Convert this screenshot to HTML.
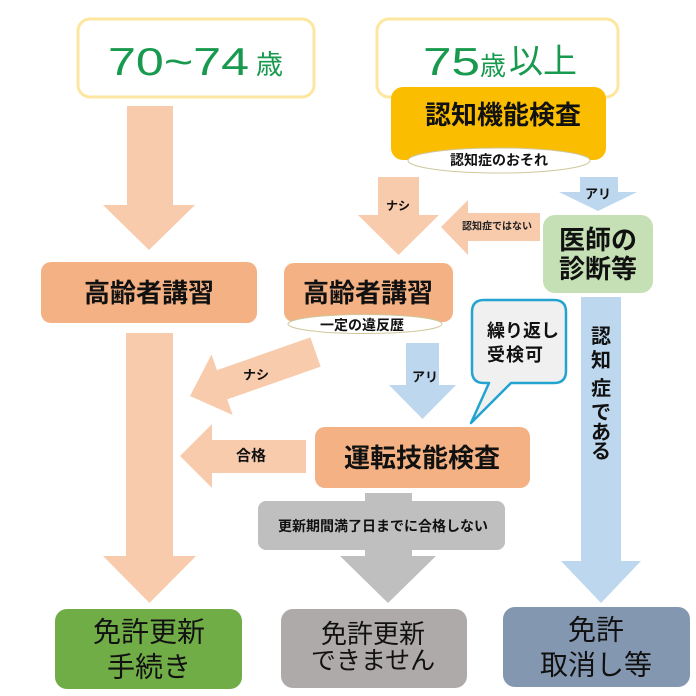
<!DOCTYPE html>
<html><head><meta charset="utf-8">
<style>html,body{margin:0;padding:0;background:#fff;}svg{display:block}</style>
</head><body>
<svg width="696" height="696" viewBox="0 0 696 696" xmlns="http://www.w3.org/2000/svg" font-family="'Liberation Sans','Noto Sans CJK JP',sans-serif">
<rect width="696" height="696" fill="#fff"/>

<!-- top age boxes -->
<rect x="78" y="19" width="236" height="78" rx="12" fill="#fff" stroke="#fde7a0" stroke-width="3"/>
<text x="108" y="75" font-size="39" fill="#17994e" textLength="141" lengthAdjust="spacingAndGlyphs">70~74</text>
<text x="256" y="65" font-size="27" fill="#17994e" dominant-baseline="central">歳</text>

<rect x="377" y="19" width="241" height="78" rx="12" fill="#fff" stroke="#fde7a0" stroke-width="3"/>
<text x="423" y="75" font-size="39" fill="#17994e" textLength="57" lengthAdjust="spacingAndGlyphs">75</text>
<text x="480" y="66" font-size="26" fill="#17994e" dominant-baseline="central">歳</text>
<text x="509" y="62" font-size="34" fill="#17994e" dominant-baseline="central">以上</text>

<!-- left arrow 1 -->
<polygon points="127,106 173,106 173,205 195,205 149,250 103,205 127,205" fill="#f8cbad"/>

<!-- 認知機能検査 -->
<rect x="391" y="87" width="215" height="73" rx="12" fill="#fbbd00"/>
<text x="503" y="115" font-size="26" font-weight="bold" fill="#111" text-anchor="middle" dominant-baseline="central">認知機能検査</text>
<ellipse cx="499" cy="160.5" rx="91" ry="12.5" fill="#fff" stroke="#cfc79a" stroke-width="1"/>
<text x="499" y="160" font-size="14" font-weight="bold" fill="#111" text-anchor="middle" dominant-baseline="central">認知症のおそれ</text>

<!-- ナシ down arrow -->
<polygon points="378,177 419,177 419,215 439,215 398.5,255 358,215 378,215" fill="#f8cbad"/>
<text x="398" y="206" font-size="12" font-weight="bold" fill="#111" text-anchor="middle" dominant-baseline="central">ナシ</text>

<!-- アリ blue down arrow -->
<polygon points="580,177 618,177 618,192 637,192 598,211 559,192 580,192" fill="#bdd7ee"/>
<text x="598" y="194" font-size="13" font-weight="bold" fill="#111" text-anchor="middle" dominant-baseline="central">アリ</text>

<!-- 認知症ではない left arrow -->
<polygon points="441,227 468,200 468,213 540,213 540,241 468,241 468,255" fill="#f8cbad"/>
<text x="497" y="227" font-size="10" font-weight="bold" fill="#222" text-anchor="middle" dominant-baseline="central">認知症ではない</text>

<!-- 医師の診断等 -->
<rect x="543" y="215" width="110" height="78" rx="12" fill="#c5e0b4"/>
<text x="598" y="240" font-size="26" font-weight="bold" fill="#111" text-anchor="middle" dominant-baseline="central">医師の</text>
<text x="598" y="269" font-size="26" font-weight="bold" fill="#111" text-anchor="middle" dominant-baseline="central">診断等</text>

<!-- 高齢者講習 left -->
<rect x="41" y="262" width="216" height="61" rx="10" fill="#f4b183"/>
<text x="149" y="293" font-size="26" font-weight="bold" fill="#111" text-anchor="middle" dominant-baseline="central">高齢者講習</text>

<!-- 高齢者講習 middle -->
<rect x="284" y="263" width="169" height="59" rx="10" fill="#f4b183"/>
<text x="368" y="293" font-size="26" font-weight="bold" fill="#111" text-anchor="middle" dominant-baseline="central">高齢者講習</text>

<!-- diagonal ナシ arrow -->
<polygon points="0,0 34,-32 34,-15.5 133,-15.5 133,15.5 34,15.5 34,32" fill="#f8cbad" transform="translate(190,396) rotate(-19.3)"/>
<ellipse cx="365" cy="324" rx="77" ry="9.5" fill="#fff" stroke="#cfc79a" stroke-width="1"/>
<text x="362" y="325" font-size="14" font-weight="bold" fill="#111" text-anchor="middle" dominant-baseline="central">一定の違反歴</text>
<text x="256" y="375" font-size="13" font-weight="bold" fill="#111" text-anchor="middle" dominant-baseline="central">ナシ</text>

<!-- left big arrow 2 -->
<polygon points="126,333 173,333 173,556 196,556 149.5,603 103,556 126,556" fill="#f8cbad"/>

<!-- 合格 arrow -->
<polygon points="180,456 212,424 212,440 306,440 306,473 212,473 212,488" fill="#f8cbad"/>
<text x="251" y="456" font-size="15" font-weight="bold" fill="#111" text-anchor="middle" dominant-baseline="central">合格</text>

<!-- アリ blue arrow 2 -->
<polygon points="406,343 439,343 439,385 456,385 422.5,419 389,385 406,385" fill="#bdd7ee"/>
<text x="425" y="377" font-size="13" font-weight="bold" fill="#111" text-anchor="middle" dominant-baseline="central">アリ</text>

<!-- callout -->
<path d="M484,300 H554 Q566,300 566,312 V371 Q566,383 554,383 H511 L471,423 L489,383 H484 Q472,383 472,371 V312 Q472,300 484,300 Z" fill="#f0f0f0" stroke="#22a3d0" stroke-width="2.5" stroke-linejoin="round"/>
<text x="487" y="331" font-size="18" font-weight="bold" fill="#111" dominant-baseline="central">繰り返し</text>
<text x="487" y="355" font-size="18" font-weight="bold" fill="#111" dominant-baseline="central" letter-spacing="1">受検可</text>

<!-- 運転技能検査 -->
<rect x="315" y="427" width="215" height="61" rx="10" fill="#f4b183"/>
<text x="422" y="458" font-size="26" font-weight="bold" fill="#111" text-anchor="middle" dominant-baseline="central">運転技能検査</text>

<!-- 認知症である vertical arrow -->
<polygon points="581,297 621,297 621,561 641,561 601,603 561,561 581,561" fill="#bdd7ee"/>
<g font-size="20" font-weight="bold" fill="#111" text-anchor="middle" dominant-baseline="central">
<text x="601" y="337">認</text>
<text x="601" y="361">知</text>
<text x="601" y="389">症</text>
<text x="601" y="413">で</text>
<text x="601" y="433">あ</text>
<text x="601" y="452">る</text>
</g>

<!-- gray arrow + label -->
<polygon points="365,493 412,493 412,556 436,556 388,603 340,556 365,556" fill="#bfbfbf"/>
<rect x="258" y="501" width="247" height="49" rx="8" fill="#bfbfbf"/>
<text x="383" y="526" font-size="14" font-weight="bold" fill="#111" text-anchor="middle" dominant-baseline="central">更新期間満了日までに合格しない</text>

<!-- bottom boxes -->
<rect x="55" y="609" width="187" height="80" rx="12" fill="#70ad47"/>
<text x="149" y="632" font-size="28" fill="#111" text-anchor="middle" dominant-baseline="central">免許更新</text>
<text x="149" y="667" font-size="28" fill="#111" text-anchor="middle" dominant-baseline="central">手続き</text>

<rect x="281" y="609" width="186" height="79" rx="12" fill="#aeaaaa"/>
<text x="373" y="634" font-size="26" fill="#111" text-anchor="middle" dominant-baseline="central">免許更新</text>
<text x="373" y="661" font-size="25" fill="#111" text-anchor="middle" dominant-baseline="central">できません</text>

<rect x="503" y="607" width="187" height="80" rx="12" fill="#8497b0"/>
<text x="596" y="630" font-size="28" fill="#111" text-anchor="middle" dominant-baseline="central">免許</text>
<text x="596" y="665" font-size="28" fill="#111" text-anchor="middle" dominant-baseline="central">取消し等</text>
</svg>
</body></html>
